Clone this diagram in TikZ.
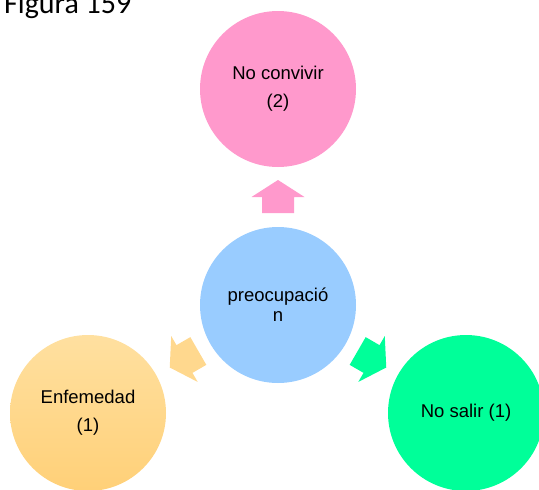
\documentclass[tikz,border=0pt]{standalone}
\usepackage{fontspec}
\setmainfont{Liberation Sans}
\newfontfamily\titlefont{Carlito}
\definecolor{pinkc}{RGB}{255,153,204}
\definecolor{bluec}{RGB}{153,204,255}
\definecolor{greenc}{RGB}{0,255,153}
\definecolor{orangetop}{RGB}{255,224,160}
\definecolor{orangebot}{RGB}{255,208,120}
\definecolor{orangearrow}{RGB}{255,216,142}
\begin{document}
\begin{tikzpicture}[x=1pt,y=1pt,
  bubble/.style={circle,minimum size=156pt,inner sep=0pt,align=center,
    font=\fontsize{18.5}{28}\selectfont,text=black},
  blockarrow/.style={draw=none}]
\useasboundingbox (0,0) rectangle (539,-490);
\node[anchor=base west,inner sep=0pt,font=\titlefont\fontsize{30}{30}\selectfont] (title) at (4,-13) {Figura 159};
\node[bubble,fill=bluec,font=\fontsize{18.5}{20}\selectfont] (c) at (278,-305) {preocupació\\n};
\node[bubble,fill=pinkc] (t) at (278,-89) {No convivir\\(2)};
\node[bubble,top color=orangetop,bottom color=orangebot] (l) at (88,-413) {Enfemedad\\(1)};
\node[bubble,fill=greenc] (r) at (466,-413) {No salir (1)};
\foreach \ang/\col in {90/pinkc,210/orangearrow,330/greenc}{
  \begin{scope}[shift={(c.center)},rotate=\ang]
    \fill[\col] (92,-16) -- (108,-16) -- (108,-26.5) -- (125,0) -- (108,26.5) -- (108,16) -- (92,16) -- cycle;
  \end{scope}
}
\end{tikzpicture}
\end{document}
